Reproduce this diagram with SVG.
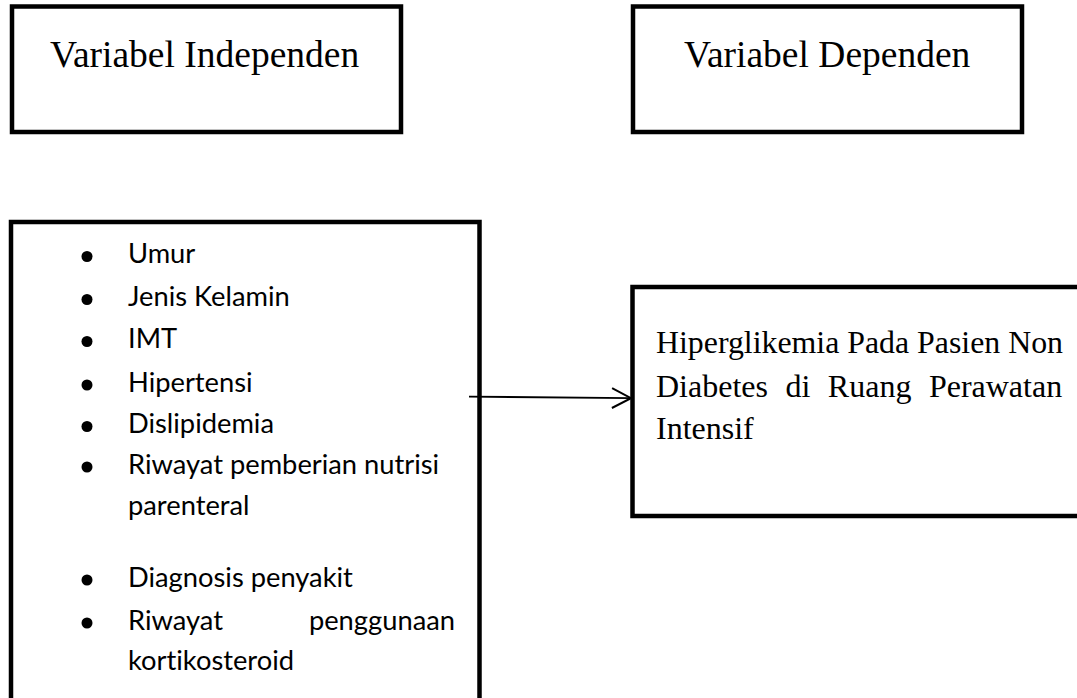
<svg xmlns="http://www.w3.org/2000/svg" width="1077" height="698" viewBox="0 0 1077 698">
  <defs>
    <style>
      .box { fill: #ffffff; stroke: #000000; stroke-width: 4.5; }
      .title { font-family: "Liberation Serif", "Times New Roman", serif; font-size: 37.5px; fill: #000; }
      .item { font-family: Lato, "Open Sans", sans-serif; font-size: 27.3px; fill: #000; font-variant-ligatures: none; }
      .dep { font-family: "Liberation Serif", "Times New Roman", serif; font-size: 32px; fill: #000; }
      .bullet { fill: #000; }
      .conn { stroke: #000; stroke-width: 1.8; fill: none; }
    </style>
    <marker id="open-arrow" markerUnits="userSpaceOnUse" markerWidth="24" markerHeight="24" refX="20" refY="11" orient="auto" viewBox="0 0 24 22">
      <path d="M1,1 L20,11 L1,21" fill="none" stroke="#000" stroke-width="2"/>
    </marker>
  </defs>
  <rect width="1077" height="698" fill="#ffffff"/>

  <g id="title-independen">
    <rect class="box" x="12" y="6.5" width="389" height="125.5"/>
    <text class="title" x="50" y="67">Variabel Independen</text>
  </g>

  <g id="title-dependen">
    <rect class="box" x="633" y="6.5" width="389" height="125.5"/>
    <text class="title" x="684" y="67">Variabel Dependen</text>
  </g>

  <g id="independent-variables">
    <rect class="box" x="11" y="222" width="468.5" height="520"/>
    <circle class="bullet" cx="87" cy="256.5" r="5.5"/>
    <text class="item" x="128" y="263">Umur</text>
    <circle class="bullet" cx="87" cy="299.5" r="5.5"/>
    <text class="item" x="128" y="306">Jenis Kelamin</text>
    <circle class="bullet" cx="87" cy="341.5" r="5.5"/>
    <text class="item" x="128" y="348">IMT</text>
    <circle class="bullet" cx="87" cy="385" r="5.5"/>
    <text class="item" x="128" y="391.5">Hipertensi</text>
    <circle class="bullet" cx="87" cy="426.5" r="5.5"/>
    <text class="item" x="128" y="433">Dislipidemia</text>
    <circle class="bullet" cx="87" cy="467" r="5.5"/>
    <text class="item" x="128" y="473.5">Riwayat pemberian nutrisi</text>
    <text class="item" x="128" y="515">parenteral</text>
    <circle class="bullet" cx="87" cy="580" r="5.5"/>
    <text class="item" x="128" y="586.5">Diagnosis penyakit</text>
    <circle class="bullet" cx="87" cy="623" r="5.5"/>
    <text class="item" y="629.5"><tspan x="128">Riwayat</tspan><tspan x="455" text-anchor="end">penggunaan</tspan></text>
    <text class="item" x="128" y="670">kortikosteroid</text>
  </g>

  <g id="dependent-variable">
    <rect class="box" x="632.5" y="287" width="500" height="229"/>
    <text class="dep" x="656" y="353" textLength="407" lengthAdjust="spacingAndGlyphs">Hiperglikemia Pada Pasien Non</text>
    <text class="dep" x="656" y="396.5" word-spacing="9.5">Diabetes di Ruang Perawatan</text>
    <text class="dep" x="656" y="439">Intensif</text>
  </g>

  <g id="connectors">
    <path class="conn" d="M469,396.6 L631,398.2" marker-end="url(#open-arrow)"/>
  </g>
</svg>
